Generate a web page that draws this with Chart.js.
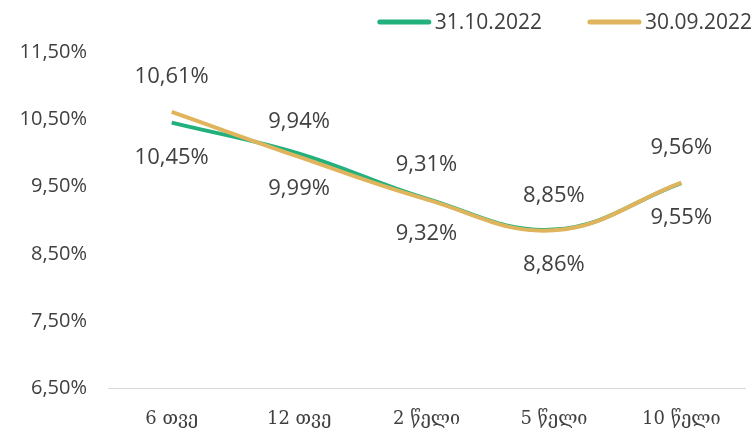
<!DOCTYPE html>
<html>
<head>
<meta charset="utf-8">
<script src="https://cdn.jsdelivr.net/npm/chart.js@4"></script>
<style>
  html, body { margin: 0; padding: 0; background: #fff; }
  #wrap { width: 755px; height: 442px; }
</style>
</head>
<body>
<div id="wrap"><canvas id="curve"></canvas></div>
<script>
let labels = ['6 თვე', '12 თვე', '2 წელი', '5 წელი', '10 წელი'];
let oct2022 = [10.45, 9.99, 9.32, 8.86, 9.55];
let sep2022 = [10.61, 9.94, 9.31, 8.85, 9.56];
let yTicks = [6.5, 7.5, 8.5, 9.5, 10.5, 11.5];

let fmt = v => v.toFixed(2).replace('.', ',') + '%';
let textColor = '#404040';

// simple value labels: first dataset below the line, second above
let valueLabels = {
  id: 'valueLabels',
  afterDatasetsDraw(chart) {
    let ctx = chart.ctx;
    ctx.save();
    ctx.font = '22px "Open Sans", sans-serif';
    ctx.fillStyle = textColor;
    ctx.textAlign = 'center';
    ctx.textBaseline = 'middle';
    chart.data.datasets.forEach((ds, i) => {
      chart.getDatasetMeta(i).data.forEach((pt, j) => {
        let dy = i === 0 ? 35 : -35;
        ctx.fillText(fmt(ds.data[j]), pt.x, pt.y + dy);
      });
    });
    ctx.restore();
  }
};

// legend in the top right corner, line swatch + label
let lineLegend = {
  id: 'lineLegend',
  afterDraw(chart) {
    let ctx = chart.ctx;
    ctx.save();
    ctx.font = '21px "Open Sans", sans-serif';
    ctx.textBaseline = 'middle';
    ctx.textAlign = 'left';
    let x = 752, y = 22;
    let sets = chart.data.datasets.slice().reverse();
    sets.forEach((ds, k) => {
      let w = ctx.measureText(ds.label).width;
      x -= w;
      ctx.fillStyle = textColor;
      ctx.fillText(ds.label, x, y + 1);
      ctx.strokeStyle = ds.borderColor;
      ctx.lineWidth = 5;
      ctx.lineCap = 'round';
      ctx.beginPath();
      ctx.moveTo(x - 55, y);
      ctx.lineTo(x - 6, y);
      ctx.stroke();
      x -= 58 + 45;
    });
    ctx.restore();
  }
};

let chart = new Chart(document.getElementById('curve'), {
  type: 'line',
  data: {
    labels: labels,
    datasets: [{
      label: '31.10.2022',
      data: oct2022,
      borderColor: '#22b07d',
      backgroundColor: '#22b07d',
      borderWidth: 4,
      tension: 0.4,
      pointRadius: 0,
      clip: false,
      order: 1
    }, {
      label: '30.09.2022',
      data: sep2022,
      borderColor: '#e0b45c',
      backgroundColor: '#e0b45c',
      borderWidth: 4,
      tension: 0.4,
      pointRadius: 0,
      clip: false,
      order: 0
    }]
  },
  options: {
    responsive: true,
    maintainAspectRatio: false,
    animation: false,
    layout: { padding: { left: 0, right: 10, top: 52, bottom: 0 } },
    plugins: {
      legend: { display: false },
      tooltip: { enabled: false }
    },
    scales: {
      x: {
        offset: true,
        grid: { display: false },
        border: { display: true, color: '#d9d9d9', width: 1 },
        ticks: {
          color: textColor,
          padding: 12,
          font: { family: '"DejaVu Serif", serif', size: 18 }
        }
      },
      y: {
        min: 6.5,
        max: 11.5,
        afterBuildTicks: axis => { axis.ticks = yTicks.map(v => ({ value: v })); },
        afterFit: axis => { axis.width = 108; },
        grid: { display: false },
        border: { display: false },
        ticks: {
          color: textColor,
          padding: 13,
          font: { family: '"Open Sans", sans-serif', size: 20 },
          callback: v => fmt(v)
        }
      }
    }
  },
  plugins: [valueLabels, lineLegend]
});
</script>
</body>
</html>
